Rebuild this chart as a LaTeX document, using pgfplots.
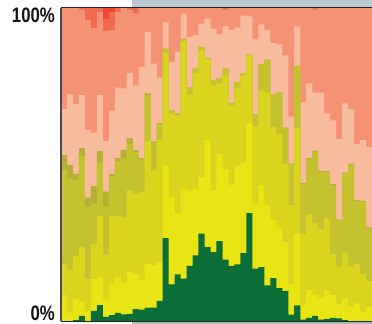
\documentclass[border=0pt]{standalone}
\usepackage{pgfplots}
\pgfplotsset{compat=1.18}
\usepackage{pgfplotstable}
\usepackage{fontspec}
\newfontfamily\lab[FakeStretch=0.8]{Liberation Sans}
\definecolor{cG}{HTML}{0B6E37}
\definecolor{cYa}{HTML}{E9E514}
\definecolor{cYb}{HTML}{D9D41E}
\definecolor{cOa}{HTML}{C4C22F}
\definecolor{cOb}{HTML}{B5B135}
\definecolor{cPa}{HTML}{F9BB9E}
\definecolor{cPb}{HTML}{F59274}
\definecolor{cRa}{HTML}{F26B4F}
\definecolor{cRb}{HTML}{EE4433}
\definecolor{bandtop}{HTML}{BACAD2}
\definecolor{bandbot}{HTML}{A9B5BC}
% cumulative shares (%) from the bottom, per bar
\pgfplotstableread{
x G Y1 Y2 O1 O2 P1 P2 R1 R2
0 0 8.3 18.2 48.2 53.0 67.7 100 100 100
1 0 2.7 16.3 45.4 49.8 72.5 100 100 100
2 0.3 7.0 20.8 45.0 47.0 69.3 100 100 100
3 1.6 6.2 23.6 52.7 55.2 72.2 99.5 100 100
4 0 3.2 13.5 36.5 39.4 61.0 96.1 100 100
5 3.2 13.4 24.8 37.6 43.1 60.2 93.6 100 100
6 5.1 14.1 33.6 50.6 54.3 72.2 98.7 100 100
7 1.3 6.9 21.1 36.7 41.3 57.5 92.7 96.6 100
8 1.9 12.0 33.6 46.1 47.0 67.2 92.9 98.7 100
9 2.6 14.1 33.6 50.9 52.0 74.6 98.7 100 100
10 2.1 12.0 33.1 52.0 54.6 74.3 100 100 100
11 2.3 15.8 41.9 56.5 58.4 79.3 99.3 100 100
12 3.8 15.0 40.6 54.0 54.6 75.3 98.4 100 100
13 3.6 13.1 41.3 51.6 52.0 81.2 100 100 100
14 4.3 18.2 57.5 72.1 72.7 92.3 100 100 100
15 4.3 17.7 47.9 56.9 57.3 82.2 100 100 100
16 6.4 18.9 57.8 62.9 63.2 77.8 100 100 100
17 26.5 49.7 85.6 87.0 87.0 95.5 100 100 100
18 11.7 39.7 66.3 67.3 67.3 82.8 100 100 100
19 14.9 34.4 65.7 66.3 66.3 86.0 100 100 100
20 13.5 42.3 89.5 90.2 90.2 98.2 100 100 100
21 17.6 41.7 72.4 74.6 74.6 90.7 100 100 100
22 21.0 42.3 79.3 80.6 80.6 91.3 100 100 100
23 27.9 46.0 86.3 87.6 87.6 95.0 100 100 100
24 23.6 57.8 83.8 84.1 84.1 96.6 100 100 100
25 22.0 41.8 75.3 76.9 76.9 93.4 100 100 100
26 25.5 53.3 75.9 77.7 77.7 91.6 100 100 100
27 19.6 48.5 78.5 80.6 80.6 94.1 99.3 100 100
28 17.6 43.4 68.9 69.5 69.5 92.9 100 100 100
29 18.1 49.6 74.3 76.4 76.4 93.7 100 100 100
30 21.7 50.6 78.2 79.0 79.0 97.6 100 100 100
31 34.5 63.1 84.9 85.2 85.2 97.3 100 100 100
32 16.7 37.3 62.2 66.1 66.1 90.0 100 100 100
33 17.2 43.4 73.5 82.0 82.0 94.8 100 100 100
34 11.4 37.0 72.9 83.5 83.5 92.9 100 100 100
35 13.7 32.2 62.0 72.3 72.3 88.8 100 100 100
36 10.5 29.9 59.7 73.1 73.1 88.4 100 100 100
37 9.6 25.3 50.3 61.8 61.8 84.9 100 100 100
38 2.0 11.8 37.0 50.3 50.3 65.4 100 100 100
39 5.0 27.8 61.7 81.4 81.4 94.1 100 100 100
40 0.4 5.1 27.8 43.7 44.1 70.0 100 100 100
41 1.0 9.9 34.1 51.6 52.0 75.9 100 100 100
42 1.6 8.3 31.4 53.9 54.4 73.0 99.3 100 100
43 0.4 7.4 29.4 47.6 48.0 73.0 100 100 100
44 0.7 9.6 32.6 47.6 48.0 66.3 100 100 100
45 1.0 8.3 21.4 43.3 43.7 64.1 100 100 100
46 0.8 5.4 17.3 32.1 32.4 58.1 100 100 100
47 0.3 7.2 21.9 47.1 47.4 69.5 100 100 100
48 0 4.6 17.3 50.0 50.3 67.7 100 100 100
49 0 5.6 18.2 38.3 38.7 56.5 100 100 100
50 0 3.0 15.0 38.1 38.4 57.8 100 100 100
51 0 4.6 12.8 29.6 29.9 55.6 100 100 100
}\shares
\begin{document}
\begin{tikzpicture}
\useasboundingbox (0,0) rectangle (372bp,324bp);
\fill[bandtop] (132bp,316bp) rectangle (372bp,324bp);
\fill[bandbot] (132bp,0bp) rectangle (372bp,2.5bp);
\begin{axis}[
  at={(61bp,3bp)}, anchor=south west,
  scale only axis, width=311bp, height=313bp,
  xmin=-0.5, xmax=51.5, ymin=0, ymax=100,
  clip=false,
  ybar,
  axis line style={draw=none},
  xtick=\empty,
  ytick={2.4,97.6}, yticklabels={0\%,100\%},
  major tick length=0pt, tick style={draw=none},
  yticklabel style={font=\lab\bfseries\fontsize{21}{21}\selectfont, text=black!92, inner sep=0pt, xshift=-6bp},
  lay/.style={fill=#1, draw=none, bar shift=0pt, bar width=1.02},
]
\addplot[lay=cRb] table[x=x,y=R2] {\shares};
\addplot[lay=cRa] table[x=x,y=R1] {\shares};
\addplot[lay=cPb] table[x=x,y=P2] {\shares};
\addplot[lay=cPa] table[x=x,y=P1] {\shares};
\addplot[lay=cOb] table[x=x,y=O2] {\shares};
\addplot[lay=cOa] table[x=x,y=O1] {\shares};
\addplot[lay=cYb] table[x=x,y=Y2] {\shares};
\addplot[lay=cYa] table[x=x,y=Y1] {\shares};
\addplot[lay=cG] table[x=x,y=G] {\shares};
\draw[black!85, line width=1bp] (rel axis cs:0,1) -- (rel axis cs:1,1);
\draw[black!85, line width=1bp] (rel axis cs:0,0) -- (rel axis cs:1,0);
\draw[black!70, line width=1.6bp] (rel axis cs:0,0) -- (rel axis cs:0,1);
\end{axis}
\end{tikzpicture}
\end{document}
